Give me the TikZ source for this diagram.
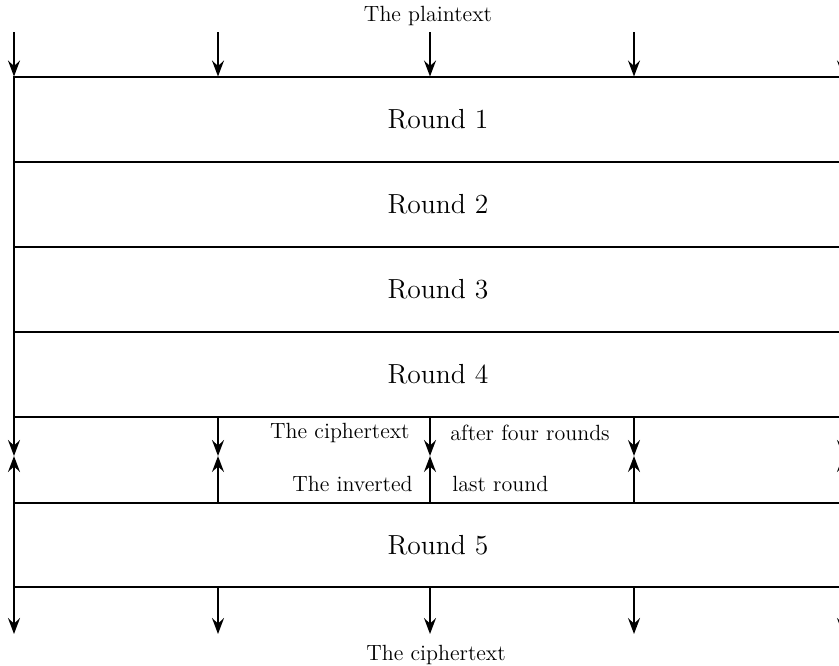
\documentclass[tikz,border=0pt]{standalone}
\usepackage{tikz}
\usetikzlibrary{arrows.meta,positioning}
\newcommand{\lblsize}{\fontsize{11}{13}\selectfont}
\newcommand{\rndsize}{\fontsize{13.8}{16}\selectfont}

\begin{document}
\begin{tikzpicture}[x=0.5pt, y=-0.5pt,
    roundbox/.style={rectangle, draw, line width=1pt, minimum width=424pt, minimum height=42.5pt, outer sep=0pt, font=\rndsize},
    arr/.style={line width=1pt, -{Stealth[length=8pt, width=6pt, inset=2.8pt]}},
    lbl/.style={font=\lblsize, inner sep=0pt}]
    \clip (0,0) rectangle (839,665);

    % Rounds
    \node[roundbox] (r1) at (438,119) {Round 1};
    \node[roundbox, below=0pt of r1] (r2) {Round 2};
    \node[roundbox, below=0pt of r2] (r3) {Round 3};
    \node[roundbox, below=0pt of r3] (r4) {Round 4};
    \node[roundbox, minimum height=42pt] (r5) at (438,545) {Round 5};

    % Texts
    \node[lbl] (plain) at (428,16) {The plaintext};
    \node[lbl, anchor=east] (cafter) at (410,433) {The ciphertext};
    \node[lbl, anchor=west] (cfour) at (450,433) {after four rounds};
    \node[lbl, anchor=east] (inv) at (413,484) {The inverted};
    \node[lbl, anchor=west] (lastr) at (452,484) {last round};
    \node[lbl] (cipher) at (436,655) {The ciphertext};

    % Arrows
    \foreach \x [count=\i] in {14,218,430,634,843} {
        \coordinate (top\i) at (\x,32);
        \coordinate (mid\i) at (\x,456);
        \coordinate (bot\i) at (\x,634);
        \draw[arr] (top\i) -- (top\i |- r1.north);
        \draw[arr] (mid\i |- r4.south) -- (mid\i);
        \draw[arr] (mid\i |- r5.north) -- (mid\i);
        \draw[arr] (bot\i |- r5.south) -- (bot\i);
    }
\end{tikzpicture}
\end{document}
